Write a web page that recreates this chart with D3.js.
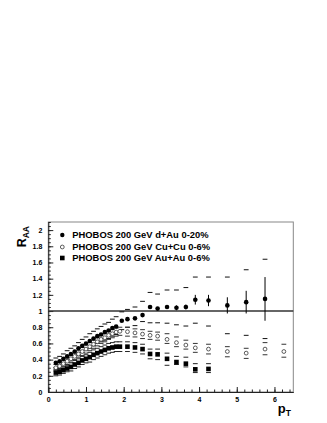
<!DOCTYPE html>
<html>
<head>
<meta charset="utf-8">
<script src="https://cdn.jsdelivr.net/npm/d3@7"></script>
<style>
  body { margin: 0; background: #fff; }
  svg { display: block; }
  text { font-family: "Liberation Sans", Arial, Helvetica, sans-serif; font-weight: bold; }
</style>
</head>
<body>
<script>
// d+Au 0-20%
var dauPt   = [0.2,0.3,0.4,0.5,0.6,0.7,0.8,0.9,1.0,1.1,1.2,1.3,1.4,1.5,1.6,1.7,1.8,1.95,2.1,2.3,2.5,2.7,2.9,3.15,3.4,3.65,3.9,4.25,4.75,5.25,5.75];
var dauR    = [0.36,0.38,0.41,0.44,0.47,0.50,0.54,0.57,0.60,0.63,0.66,0.69,0.71,0.74,0.76,0.79,0.81,0.88,0.90,0.91,0.95,1.05,1.03,1.05,1.04,1.05,1.14,1.13,1.07,1.11,1.15];
var dauStat = [0.01,0.01,0.01,0.01,0.01,0.01,0.01,0.01,0.01,0.01,0.01,0.01,0.01,0.01,0.01,0.01,0.01,0.01,0.01,0.01,0.02,0.02,0.02,0.02,0.03,0.03,0.06,0.07,0.10,0.14,0.27];
var dauSysHi = [0.42,0.44,0.47,0.51,0.54,0.57,0.61,0.65,0.68,0.72,0.75,0.78,0.81,0.84,0.86,0.90,0.93,0.99,1.02,1.05,1.12,1.23,1.21,1.26,1.26,1.29,1.42,1.42,1.42,1.51,1.64];
var dauSysLo = [0.30,0.32,0.35,0.37,0.40,0.43,0.46,0.49,0.52,0.54,0.57,0.60,0.62,0.64,0.66,0.69,0.71,0.77,0.80,0.82,0.87,0.855,0.855,0.85,0.83,0.815,0.85,0.815,0.72,0.70,0.66];

// Cu+Cu 0-6%
var cuPt    = [0.2,0.3,0.4,0.5,0.6,0.7,0.8,0.9,1.0,1.1,1.2,1.3,1.4,1.5,1.6,1.7,1.8,1.9,2.1,2.3,2.5,2.7,2.9,3.15,3.4,3.65,3.9,4.25,4.75,5.25,5.75,6.25];
var cuR     = [0.30,0.32,0.35,0.38,0.41,0.44,0.47,0.50,0.53,0.56,0.59,0.62,0.65,0.67,0.70,0.72,0.74,0.75,0.745,0.73,0.715,0.70,0.69,0.65,0.61,0.58,0.545,0.53,0.50,0.48,0.53,0.50];
var cuSysHi = [0.34,0.36,0.39,0.42,0.45,0.48,0.51,0.55,0.58,0.61,0.64,0.67,0.70,0.72,0.75,0.77,0.79,0.80,0.80,0.78,0.77,0.75,0.74,0.72,0.68,0.64,0.60,0.59,0.56,0.54,0.61,0.59];
var cuSysLo = [0.26,0.28,0.31,0.34,0.37,0.40,0.43,0.45,0.48,0.51,0.54,0.57,0.60,0.62,0.65,0.67,0.69,0.70,0.69,0.68,0.66,0.65,0.64,0.60,0.56,0.53,0.49,0.47,0.435,0.415,0.46,0.43];

// Au+Au 0-6%
var auPt    = [0.2,0.3,0.4,0.5,0.6,0.7,0.8,0.9,1.0,1.1,1.2,1.3,1.4,1.5,1.6,1.7,1.8,1.9,2.1,2.3,2.5,2.7,2.9,3.15,3.4,3.65,3.9,4.25];
var auR     = [0.24,0.25,0.27,0.29,0.31,0.34,0.36,0.39,0.41,0.43,0.46,0.48,0.50,0.52,0.54,0.55,0.56,0.56,0.56,0.55,0.53,0.47,0.465,0.41,0.37,0.35,0.28,0.285];
var auSysHi = [0.28,0.29,0.31,0.33,0.36,0.39,0.41,0.44,0.46,0.49,0.52,0.54,0.56,0.58,0.60,0.61,0.62,0.62,0.62,0.61,0.59,0.53,0.53,0.48,0.44,0.43,0.35,0.35];
var auSysLo = [0.20,0.21,0.23,0.25,0.26,0.29,0.31,0.34,0.36,0.37,0.40,0.42,0.44,0.46,0.48,0.49,0.50,0.50,0.50,0.49,0.47,0.41,0.40,0.33,0.34,0.31,0.24,0.24];

var legendLabels = ['PHOBOS 200 GeV d+Au 0-20%', 'PHOBOS 200 GeV Cu+Cu 0-6%', 'PHOBOS 200 GeV Au+Au 0-6%'];
var xTicks = [0,1,2,3,4,5,6];
var yTicks = [0,0.2,0.4,0.6,0.8,1,1.2,1.4,1.6,1.8,2];

var W = 327, H = 423;
var padL = 48.3, padR = 293.3, padT = 222, padB = 392;

var svg = d3.select('body').append('svg').attr('width', W).attr('height', H);

var x = d3.scaleLinear().domain([0, 6.5]).range([padL, padR]);
var y = d3.scaleLinear().domain([0, 2.1]).range([padB, padT]);

// frame
svg.append('rect').attr('x', padL).attr('y', padT).attr('width', padR-padL).attr('height', padB-padT)
  .attr('fill','none').attr('stroke','#888').attr('stroke-width',1);

// axes, ticks pointing inside like root
var yMinor = d3.range(0, 2.1001, 0.05);
var xMinor = d3.range(0, 6.5001, 0.2);
var fontFam = '"Liberation Sans", Arial, sans-serif';

svg.append('g').attr('transform','translate('+padL+',0)')
  .call(d3.axisLeft(y).tickValues(yMinor).tickSize(-2.5).tickSizeOuter(0).tickFormat(''))
  .call(g => g.select('.domain').attr('stroke','#222'));
svg.append('g').attr('transform','translate('+padL+',0)')
  .call(d3.axisLeft(y).tickValues(yTicks).tickSize(-5).tickSizeOuter(0).tickPadding(6)
    .tickFormat(d => String(+d.toFixed(1))))
  .call(g => g.select('.domain').remove())
  .call(g => g.selectAll('text').attr('font-size', 7).attr('font-family', fontFam).attr('font-weight','bold'));

svg.append('g').attr('transform','translate(0,'+padB+')')
  .call(d3.axisBottom(x).tickValues(xMinor).tickSize(-2.5).tickSizeOuter(0).tickFormat(''))
  .call(g => g.select('.domain').attr('stroke','#222'));
svg.append('g').attr('transform','translate(0,'+padB+')')
  .call(d3.axisBottom(x).tickValues(xTicks).tickSize(-5).tickSizeOuter(0).tickPadding(5).tickFormat(d3.format('d')))
  .call(g => g.select('.domain').remove())
  .call(g => g.selectAll('text').attr('font-size', 7).attr('font-family', fontFam).attr('font-weight','bold'));

svg.selectAll('.tick line').attr('stroke','#222');

// line at R_AA = 1
svg.append('line').attr('x1', padL).attr('x2', padR).attr('y1', y(1)).attr('y2', y(1))
  .attr('stroke','#333').attr('stroke-width',1.5);

// systematic brackets
function sysDashes(pt, hi, lo, color){
  var g = svg.append('g').attr('stroke', color).attr('stroke-width', 1);
  pt.forEach(function(p, i){
    g.append('line').attr('x1', x(p)-2.4).attr('x2', x(p)+2.4).attr('y1', y(hi[i])).attr('y2', y(hi[i]));
    g.append('line').attr('x1', x(p)-2.4).attr('x2', x(p)+2.4).attr('y1', y(lo[i])).attr('y2', y(lo[i]));
  });
}
sysDashes(dauPt, dauSysHi, dauSysLo, '#111');
sysDashes(cuPt, cuSysHi, cuSysLo, '#333');
sysDashes(auPt, auSysHi, auSysLo, '#222');

// stat error bars (d+Au)
svg.append('g').selectAll('line').data(dauPt).join('line')
  .attr('x1', d => x(d)).attr('x2', d => x(d))
  .attr('y1', (d,i) => y(dauR[i] + dauStat[i])).attr('y2', (d,i) => y(dauR[i] - dauStat[i]))
  .attr('stroke','#000').attr('stroke-width',1);

// markers
svg.append('g').selectAll('rect').data(auPt).join('rect')
  .attr('x', d => x(d)-2.3).attr('y', (d,i) => y(auR[i])-2.3).attr('width',4.6).attr('height',4.6)
  .attr('fill','#000');
svg.append('g').selectAll('circle').data(cuPt).join('circle')
  .attr('cx', d => x(d)).attr('cy', (d,i) => y(cuR[i])).attr('r', 1.9)
  .attr('fill','#fff').attr('stroke','#333').attr('stroke-width',0.8);
svg.append('g').selectAll('circle').data(dauPt).join('circle')
  .attr('cx', d => x(d)).attr('cy', (d,i) => y(dauR[i])).attr('r', 2.3)
  .attr('fill','#000');

// legend
var leg = svg.append('g');
var legY = [235, 247, 258];
leg.append('circle').attr('cx', 62.3).attr('cy', legY[0]).attr('r', 2.2).attr('fill','#000');
leg.append('circle').attr('cx', 62.3).attr('cy', legY[1]).attr('r', 1.9).attr('fill','#fff').attr('stroke','#333').attr('stroke-width',0.8);
leg.append('rect').attr('x', 60).attr('y', legY[2]-2.3).attr('width',4.6).attr('height',4.6).attr('fill','#000');
leg.selectAll('text').data(legendLabels).join('text')
  .attr('x', 72.3).attr('y', (d,i) => legY[i] + 3.4)
  .attr('font-size', 9.4).attr('fill','#000').text(d => d);

// axis titles
var yt = svg.append('text').attr('transform','translate(26,226) rotate(-90)')
  .attr('text-anchor','end').attr('font-size', 12.5);
yt.append('tspan').text('R');
yt.append('tspan').attr('font-size', 8.5).attr('dy', 2.5).text('AA');

var xt = svg.append('text').attr('x', 291).attr('y', 413).attr('text-anchor','end').attr('font-size', 13);
xt.append('tspan').text('p');
xt.append('tspan').attr('font-size', 8.5).attr('dy', 3).text('T');
</script>
</body>
</html>
